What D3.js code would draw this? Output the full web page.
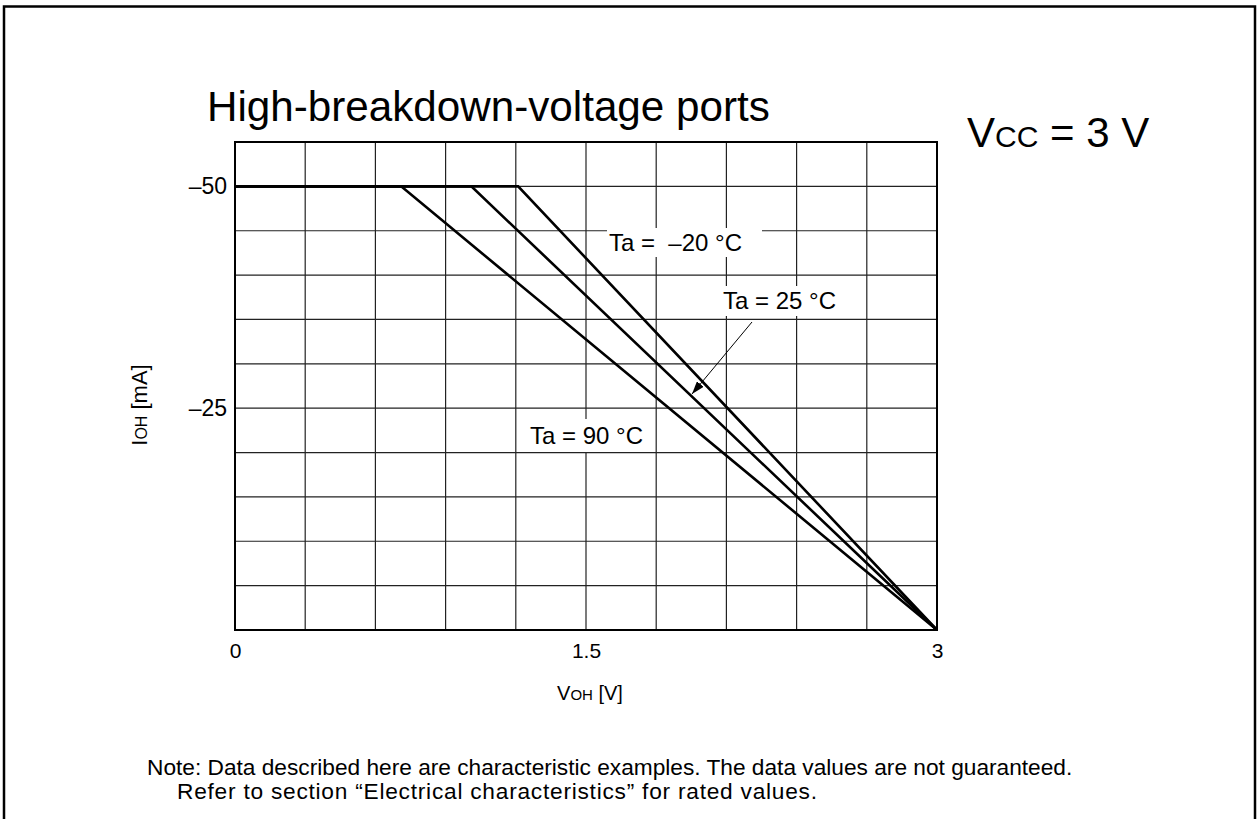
<!DOCTYPE html>
<html>
<head>
<meta charset="utf-8">
<script src="https://cdn.jsdelivr.net/npm/d3@7"></script>
<style>
  html, body { margin: 0; padding: 0; background: #fff; }
  svg { display: block; font-family: "Liberation Sans", Arial, sans-serif; }
  text { white-space: pre; }
</style>
</head>
<body>
<svg id="chart" width="1257" height="819"></svg>
<script>
// Output current vs. output voltage, three ambient temperatures
const xTicks = [0, 1.5, 3];
const xTickLabels = ["0", "1.5", "3"];
const yTicks = [-50, -25];
const yTickLabels = ["\u201350", "\u201325"];

// VOH [V] breakpoints for each curve
const voltM20 = [0, 1.21, 3];
const voltP25 = [0, 1.01, 3];
const voltP90 = [0, 0.71, 3];
// IOH [mA] at those breakpoints
const currM20 = [-50, -50, 0];
const currP25 = [-50, -50, 0];
const currP90 = [-50, -50, 0];

const seriesNames = ["Ta =  \u201320 \u00B0C", "Ta = 25 \u00B0C", "Ta = 90 \u00B0C"];

const svg = d3.select("#chart");
const x = d3.scaleLinear().domain([0, 3]).range([235, 937]);
const y = d3.scaleLinear().domain([-55, 0]).range([142, 630]);

// outer frame
svg.append("rect")
  .attr("x", 4).attr("y", 6.5).attr("width", 1251).attr("height", 900)
  .attr("fill", "none").attr("stroke", "#000").attr("stroke-width", 2.5);

// title and supply condition
svg.append("text").attr("x", 207).attr("y", 121)
  .attr("font-size", 42.2).text("High-breakdown-voltage ports");
const vcc = svg.append("text").attr("x", 967).attr("y", 147).attr("font-size", 42);
vcc.append("tspan").text("V");
vcc.append("tspan").attr("font-size", 30).text("CC");
vcc.append("tspan").text(" = 3 V");

// grid
const g = svg.append("g");
const xGrid = d3.range(0, 11).map(i => i * 0.3);
const yGrid = d3.range(0, 12).map(i => -55 + i * 5);
g.selectAll("line.vx").data(xGrid).join("line")
  .attr("x1", d => x(d)).attr("x2", d => x(d))
  .attr("y1", y(-55)).attr("y2", y(0))
  .attr("stroke", "#222").attr("stroke-width", 1.2);
g.selectAll("line.hy").data(yGrid).join("line")
  .attr("x1", x(0)).attr("x2", x(3))
  .attr("y1", d => y(d)).attr("y2", d => y(d))
  .attr("stroke", "#222").attr("stroke-width", 1.2);

// axes with tick labels only
const xAxis = d3.axisBottom(x).tickValues(xTicks)
  .tickFormat((d, i) => xTickLabels[i]).tickSize(0).tickPadding(13);
svg.append("g").attr("transform", `translate(0,${y(0)})`).call(xAxis)
  .call(a => a.select(".domain").remove())
  .selectAll("text").attr("font-size", 21).attr("fill", "#000")
  .attr("font-family", "Liberation Sans, Arial, sans-serif");
const yAxis = d3.axisLeft(y).tickValues(yTicks)
  .tickFormat((d, i) => yTickLabels[i]).tickSize(0).tickPadding(8);
svg.append("g").attr("transform", `translate(${x(0)},0)`).call(yAxis)
  .call(a => a.select(".domain").remove())
  .selectAll("text").attr("font-size", 23).attr("fill", "#000")
  .attr("font-family", "Liberation Sans, Arial, sans-serif");

// plot frame
svg.append("rect")
  .attr("x", x(0)).attr("y", y(-55))
  .attr("width", x(3) - x(0)).attr("height", y(0) - y(-55))
  .attr("fill", "none").attr("stroke", "#000").attr("stroke-width", 2);

// curves
const series = [
  voltM20.map((v, i) => [v, currM20[i]]),
  voltP25.map((v, i) => [v, currP25[i]]),
  voltP90.map((v, i) => [v, currP90[i]])
];
const line = d3.line().x(d => x(d[0])).y(d => y(d[1]));
svg.selectAll("path.curve").data(series).join("path")
  .attr("class", "curve")
  .attr("d", line)
  .attr("fill", "none").attr("stroke", "#000").attr("stroke-width", 2.6)
  .attr("stroke-linejoin", "miter");

// curve labels on white boxes
const labels = [
  { text: seriesNames[0], box: [607, 228, 155, 29], tx: 609, ty: 251 },
  { text: seriesNames[1], box: [720, 286, 122, 30], tx: 723, ty: 309 },
  { text: seriesNames[2], box: [521, 419, 134, 33], tx: 530, ty: 444 }
];
labels.forEach(l => {
  svg.append("rect").attr("x", l.box[0]).attr("y", l.box[1])
    .attr("width", l.box[2]).attr("height", l.box[3]).attr("fill", "#fff");
  svg.append("text").attr("x", l.tx).attr("y", l.ty)
    .attr("font-size", 24).text(l.text);
});

// leader arrow for the 25 °C curve
svg.append("defs").append("marker")
  .attr("id", "head").attr("viewBox", "0 0 12 8")
  .attr("refX", 12).attr("refY", 4)
  .attr("markerWidth", 13).attr("markerHeight", 9)
  .attr("markerUnits", "userSpaceOnUse").attr("orient", "auto")
  .append("path").attr("d", "M0,0 L12,4 L0,8 Z").attr("fill", "#000");
svg.append("line")
  .attr("x1", 752).attr("y1", 322).attr("x2", 692).attr("y2", 394)
  .attr("stroke", "#000").attr("stroke-width", 1)
  .attr("marker-end", "url(#head)");

// axis titles
const xt = svg.append("text").attr("x", 590).attr("y", 700)
  .attr("text-anchor", "middle").attr("font-size", 20);
xt.append("tspan").text("V");
xt.append("tspan").attr("font-size", 15).text("OH");
xt.append("tspan").text(" [V]");

const yt = svg.append("text")
  .attr("transform", "translate(147,405) rotate(-90)")
  .attr("text-anchor", "middle").attr("font-size", 22);
yt.append("tspan").text("I");
yt.append("tspan").attr("font-size", 16).text("OH");
yt.append("tspan").text(" [mA]");

// footnote
svg.append("text").attr("x", 147).attr("y", 775).attr("font-size", 22.7)
  .text("Note: Data described here are characteristic examples. The data values are not guaranteed.");
svg.append("text").attr("x", 177).attr("y", 799).attr("font-size", 22.7)
  .attr("textLength", 640).attr("lengthAdjust", "spacing")
  .text("Refer to section \u201CElectrical characteristics\u201D for rated values.");
</script>
</body>
</html>
